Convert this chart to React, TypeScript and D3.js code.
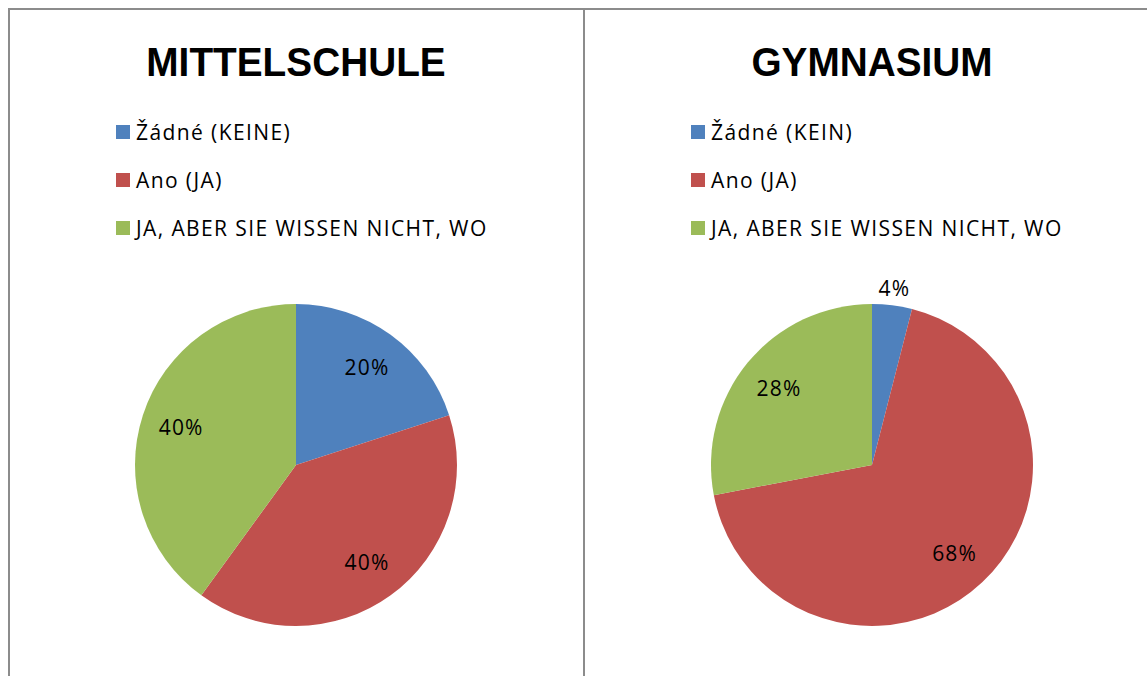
import React from "react";
import * as d3 from "d3";

const categoriesLeft = ["Žádné (KEINE)", "Ano (JA)", "JA, ABER SIE WISSEN NICHT, WO"];
const categoriesRight = ["Žádné (KEIN)", "Ano (JA)", "JA, ABER SIE WISSEN NICHT, WO"];
const valuesLeft = [20, 40, 40];
const valuesRight = [4, 68, 28];
const titles = ["MITTELSCHULE", "GYMNASIUM"];
const colors = ["#4F81BD", "#C0504D", "#9BBB59"];

const W = 1147;
const H = 676;
const TFONT = "'Liberation Sans', Arial, sans-serif";
const FONT = "'Open Sans', 'Liberation Sans', sans-serif";

type PanelProps = { x0: number; cx: number; title: string; cats: string[]; vals: number[]; labelOverrides?: Record<number, number> };

function Panel({ x0, cx, title, cats, vals, labelOverrides }: PanelProps) {
  const r = 161;
  const cy = 465;
  const pie = d3.pie<number>().sort(null).value((d) => d);
  const arcs = pie(vals);
  const arc = d3.arc<d3.PieArcDatum<number>>().innerRadius(0).outerRadius(r);
  const labelArc = d3.arc<d3.PieArcDatum<number>>().innerRadius(r * 0.75).outerRadius(r * 0.75);
  return (
    <g>
      <g transform={`translate(${cx},76) scale(0.946,1)`}>
        <text x={0} y={0} textAnchor="middle" fontFamily={TFONT} fontWeight="bold" fontSize={41} fill="#000">
          {title}
        </text>
      </g>
      {cats.map((c, i) => (
        <g key={i} transform={`translate(${x0},${125 + i * 48})`}>
          <rect x={0} y={0} width={14} height={14} fill={colors[i]} />
          <text x={20} y={14.5} fontFamily={FONT} fontSize={21} letterSpacing={1.4} fill="#000">
            {c}
          </text>
        </g>
      ))}
      <g transform={`translate(${cx},${cy})`}>
        {arcs.map((a, i) => (
          <path key={i} d={arc(a) || ""} fill={colors[i]} />
        ))}
        {arcs.map((a, i) => {
          let [lx, ly] = labelArc.centroid(a);
          if (labelOverrides && labelOverrides[i] !== undefined) {
            const rr = labelOverrides[i];
            const ang = (a.startAngle + a.endAngle) / 2;
            lx = Math.sin(ang) * rr;
            ly = -Math.cos(ang) * rr;
          }
          return (
            <text key={i} x={lx} y={ly} dy="0.36em" textAnchor="middle" fontFamily={FONT} fontSize={21} letterSpacing={1.2} fill="#000">
              {a.data}%
            </text>
          );
        })}
      </g>
    </g>
  );
}

export default function App() {
  return (
    <svg width={W} height={H} style={{ position: "absolute", left: 0, top: 0, background: "#fff" }}>
      <rect x={0} y={0} width={W} height={H} fill="#fff" />
      <line x1={8} y1={9} x2={W} y2={9} stroke="#8c8c8c" strokeWidth={2} />
      <line x1={9} y1={8} x2={9} y2={H} stroke="#8c8c8c" strokeWidth={2} />
      <line x1={584} y1={8} x2={584} y2={H} stroke="#8c8c8c" strokeWidth={2} />
      <Panel x0={116} cx={296} title={titles[0]} cats={categoriesLeft} vals={valuesLeft} />
      <Panel x0={691} cx={872} title={titles[1]} cats={categoriesRight} vals={valuesRight} labelOverrides={{ 0: 178 }} />
    </svg>
  );
}
